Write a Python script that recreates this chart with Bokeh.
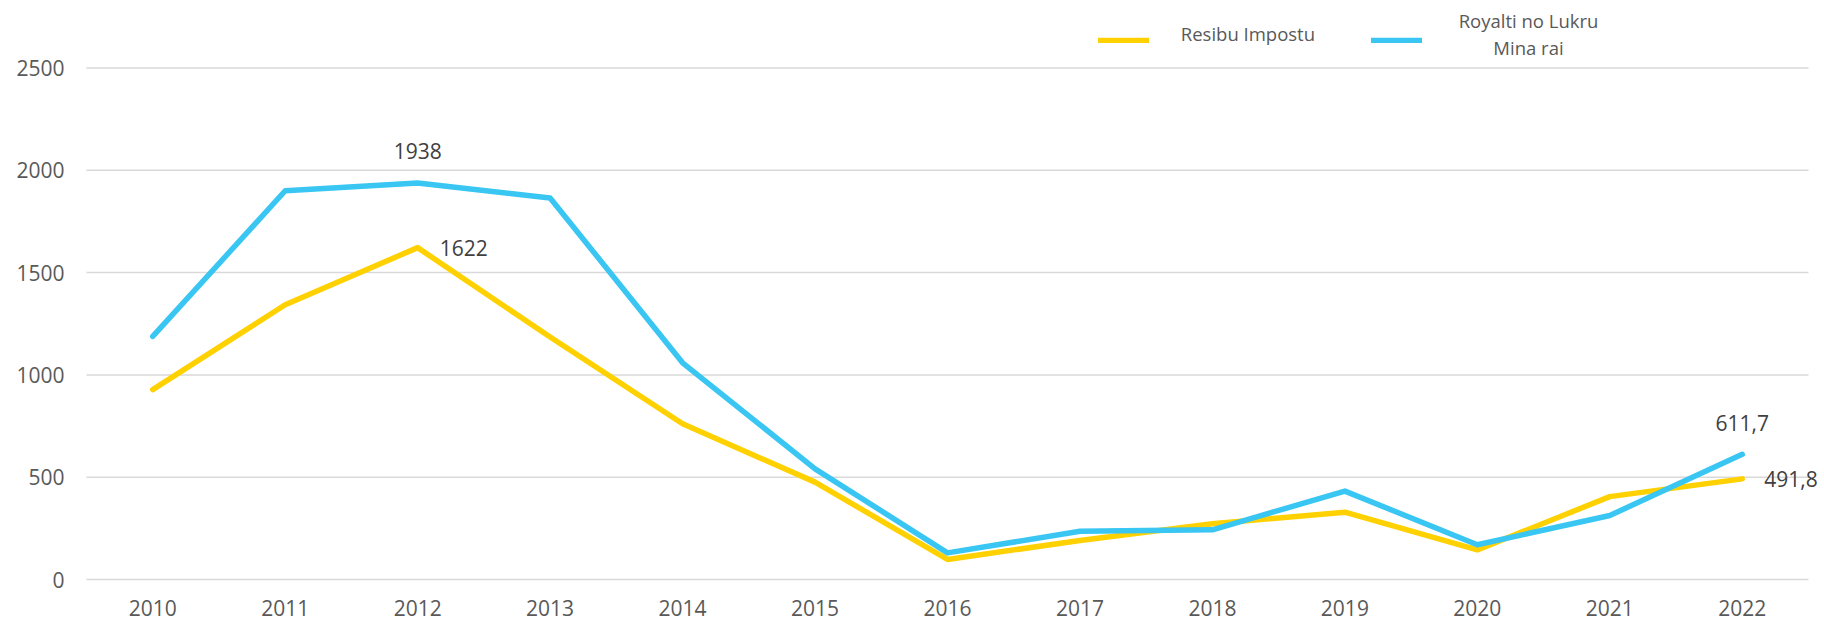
from bokeh.plotting import figure
from bokeh.models import (Range1d, FixedTicker, Legend, LegendItem,
                          Label, LabelSet, ColumnDataSource)
from bokeh.core.properties import value
from bokeh.embed import file_html
from bokeh.resources import INLINE

# ---- data ----
years = [2010, 2011, 2012, 2013, 2014, 2015, 2016,
         2017, 2018, 2019, 2020, 2021, 2022]
year_labels = [str(y) for y in years]
resibu_impostu = [928, 1343, 1622, 1185, 761, 476, 98, 191, 272, 329, 145, 405, 491.8]
royalti_mina = [1188, 1900, 1938, 1865, 1059, 541, 130, 236, 243, 432, 170, 313, 611.7]
y_ticks = [0, 500, 1000, 1500, 2000, 2500]

legend_name_yellow = "Resibu Impostu"
legend_name_blue_1 = "Royalti no Lukru"
legend_name_blue_2 = "Mina rai"

above_years = [2012, 2022]
above_values = [1938, 611.7]
above_texts = ["1938", "611,7"]
right_years = [2012, 2022]
right_values = [1622, 491.8]
right_texts = ["1622", "491,8"]

# ---- layout (pixels) ----
W, H = 1824, 622
FRAME_LEFT = 70            # frame left edge on the page
PLOT_LEFT_PX = 86          # where gridlines start
PLOT_RIGHT_PX = 1808       # where gridlines end
ZERO_PX = 579              # y pixel of value 0
TOP_PX = 67.5              # y pixel of value 2500
FRAME_W = W - FRAME_LEFT
XW = (PLOT_RIGHT_PX - PLOT_LEFT_PX) / len(years)
X_START = years[0] - 0.5 - (PLOT_LEFT_PX - FRAME_LEFT) / XW
X_END = X_START + FRAME_W / XW
PPU = (ZERO_PX - TOP_PX) / y_ticks[-1]
Y_START = -(H - ZERO_PX) / PPU
Y_END = ZERO_PX / PPU

# ---- styles ----
FONT = "Open Sans"
YELLOW = "#FFD100"
BLUE = "#39C6F2"
TICK_COLOR = "#595959"
LABEL_COLOR = "#404040"
GRID_COLOR = "#D9D9D9"
LW = 5.5

p = figure(x_range=Range1d(X_START, X_END), y_range=Range1d(Y_START, Y_END),
           width=W, height=H, output_backend="svg", toolbar_location=None,
           min_border_left=FRAME_LEFT, min_border_right=0, min_border_top=0,
           min_border_bottom=0, outline_line_color=None,
           background_fill_color="white", border_fill_color="white")

# gridlines spanning the category band
grid_src = ColumnDataSource(dict(x0=[years[0] - 0.5] * len(y_ticks),
                                 x1=[years[-1] + 0.5] * len(y_ticks),
                                 y=y_ticks))
p.segment(x0="x0", y0="y", x1="x1", y1="y", source=grid_src,
          line_color=GRID_COLOR, line_width=1.5)

r_y = p.line(years, resibu_impostu, line_color=YELLOW, line_width=LW,
             line_cap="round", line_join="round")
r_b = p.line(years, royalti_mina, line_color=BLUE, line_width=LW,
             line_cap="round", line_join="round")

# axes
p.xgrid.visible = False
p.ygrid.visible = False
p.xaxis.visible = False
p.yaxis.ticker = FixedTicker(ticks=y_ticks)
p.yaxis.axis_line_color = None
p.yaxis.major_tick_line_color = None
p.yaxis.minor_tick_line_color = None
p.yaxis.major_tick_out = 0
p.yaxis.major_tick_in = 0
p.yaxis.major_label_text_font = FONT
p.yaxis.major_label_text_font_size = "21px"
p.yaxis.major_label_text_color = TICK_COLOR
p.yaxis.major_label_standoff = 6

# category labels under the plot
src_years = ColumnDataSource(dict(x=years, y=[0] * len(years), t=year_labels))
p.add_layout(LabelSet(x="x", y="y", text="t", source=src_years, y_offset=-28,
                      text_align="center", text_baseline="middle",
                      text_font=value(FONT), text_font_size=value("21px"),
                      text_color=TICK_COLOR))

# data labels
src_above = ColumnDataSource(dict(x=above_years, y=above_values, t=above_texts))
src_right = ColumnDataSource(dict(x=right_years, y=right_values, t=right_texts))
p.add_layout(LabelSet(x="x", y="y", text="t", source=src_above, y_offset=31.5,
                      text_align="center", text_baseline="middle",
                      text_font=value(FONT), text_font_size=value("21px"),
                      text_color=LABEL_COLOR))
p.add_layout(LabelSet(x="x", y="y", text="t", source=src_right, x_offset=22,
                      text_align="left", text_baseline="middle",
                      text_font=value(FONT), text_font_size=value("21px"),
                      text_color=LABEL_COLOR))

# legend swatches (screen units relative to the frame's bottom-left)
def swatch(renderer, page_x):
    lg = Legend(items=[LegendItem(label=value(""), renderers=[renderer])],
                location=(page_x - FRAME_LEFT, H - 42.5), orientation="horizontal",
                glyph_width=51, glyph_height=6, label_width=0, label_height=6,
                label_standoff=0, padding=0, margin=0, spacing=0,
                border_line_color=None, background_fill_alpha=0,
                label_text_font_size="1px")
    p.add_layout(lg, "center")

swatch(r_y, 1098)
swatch(r_b, 1371)

def legend_text(txt, page_x, page_y, align):
    p.add_layout(Label(x=page_x - FRAME_LEFT, y=H - page_y, x_units="screen",
                       y_units="screen", text=txt, text_font=FONT,
                       text_font_size="18.5px", text_color=TICK_COLOR,
                       text_align=align, text_baseline="middle"))

legend_text(legend_name_yellow, 1180.3, 33.3, "left")
legend_text(legend_name_blue_1, 1528, 20, "center")
legend_text(legend_name_blue_2, 1528, 46.7, "center")

open("out.html", "w").write(file_html(p, INLINE))
